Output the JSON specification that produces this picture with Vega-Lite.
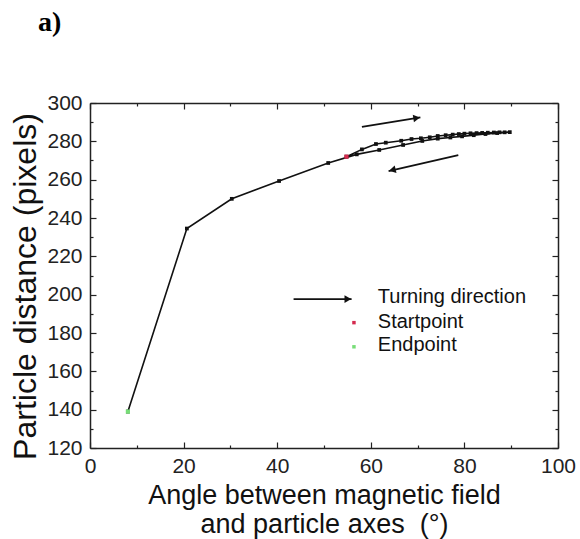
{
  "$schema": "https://vega.github.io/schema/vega-lite/v6.json",
  "width": 468,
  "height": 345,
  "autosize": {"type": "none"},
  "padding": {"left": 90, "top": 103, "right": 22, "bottom": 91},
  "background": "white",
  "config": {"font": "Liberation Sans", "view": {"stroke": null}},
  "title": {"text": "a)", "anchor": "start", "frame": "group", "font": "Liberation Serif", "fontWeight": "bold", "fontSize": 28, "dx": -52, "offset": 55, "color": "black"},
  "datasets": {
    "path": [
      {"order": 1, "angle": 54.8, "distance": 272.0},
      {"order": 2, "angle": 58.1, "distance": 275.8},
      {"order": 3, "angle": 61.1, "distance": 278.6},
      {"order": 4, "angle": 63.2, "distance": 279.3},
      {"order": 5, "angle": 66.5, "distance": 280.3},
      {"order": 6, "angle": 68.7, "distance": 281.2},
      {"order": 7, "angle": 70.7, "distance": 281.6},
      {"order": 8, "angle": 72.6, "distance": 282.1},
      {"order": 9, "angle": 74.3, "distance": 282.8},
      {"order": 10, "angle": 76.0, "distance": 283.2},
      {"order": 11, "angle": 77.5, "distance": 283.5},
      {"order": 12, "angle": 78.8, "distance": 283.8},
      {"order": 13, "angle": 80.0, "distance": 284.0},
      {"order": 14, "angle": 81.3, "distance": 284.2},
      {"order": 15, "angle": 82.6, "distance": 284.3},
      {"order": 16, "angle": 83.8, "distance": 284.4},
      {"order": 17, "angle": 85.0, "distance": 284.5},
      {"order": 18, "angle": 86.3, "distance": 284.6},
      {"order": 19, "angle": 87.5, "distance": 284.7},
      {"order": 20, "angle": 88.6, "distance": 284.7},
      {"order": 21, "angle": 89.7, "distance": 284.8},
      {"order": 22, "angle": 87.0, "distance": 284.3},
      {"order": 23, "angle": 84.5, "distance": 283.8},
      {"order": 24, "angle": 82.0, "distance": 283.2},
      {"order": 25, "angle": 79.5, "distance": 282.6},
      {"order": 26, "angle": 77.0, "distance": 282.0},
      {"order": 27, "angle": 74.3, "distance": 281.4},
      {"order": 28, "angle": 71.0, "distance": 280.2},
      {"order": 29, "angle": 66.9, "distance": 278.1},
      {"order": 30, "angle": 61.8, "distance": 275.5},
      {"order": 31, "angle": 57.0, "distance": 273.2},
      {"order": 32, "angle": 50.9, "distance": 268.7},
      {"order": 33, "angle": 40.4, "distance": 259.3},
      {"order": 34, "angle": 30.3, "distance": 250.0},
      {"order": 35, "angle": 20.7, "distance": 234.5},
      {"order": 36, "angle": 8.1, "distance": 139.0}
    ],
    "marks": [
      {"kind": "Startpoint", "angle": 54.8, "distance": 272.0},
      {"kind": "Endpoint", "angle": 8.1, "distance": 139.0}
    ],
    "arrows": [
      {"x": 58.1, "y": 287.6, "x2": 70.6, "y2": 292.5, "hx": 69.8, "hy": 292.2, "shape": "triangle-right", "rot": 351},
      {"x": 78.7, "y": 272.8, "x2": 63.8, "y2": 264.5, "hx": 64.6, "hy": 265.0, "shape": "triangle-left", "rot": 346.6},
      {"x": 43.5, "y": 197.7, "x2": 55.9, "y2": 197.7, "hx": 55.1, "hy": 197.7, "shape": "triangle-right", "rot": 0}
    ],
    "legendDots": [
      {"kind": "Startpoint", "x": 56.4, "y": 185.4},
      {"kind": "Endpoint", "x": 56.4, "y": 172.8}
    ],
    "legendText": [
      {"label": "Turning direction", "x": 61.5, "y": 198.8},
      {"label": "Startpoint", "x": 61.5, "y": 185.9},
      {"label": "Endpoint", "x": 61.5, "y": 173.7}
    ]
  },
  "resolve": {"axis": {"x": "independent", "y": "independent"}},
  "layer": [
    {
      "data": {"name": "path"},
      "mark": {"type": "line", "color": "#111", "strokeWidth": 1.6, "point": {"filled": true, "shape": "square", "size": 14, "color": "#111"}},
      "encoding": {
        "x": {"field": "angle", "type": "quantitative", "scale": {"domain": [0, 100], "nice": false, "zero": false},
          "axis": {"orient": "bottom", "values": [0, 10, 20, 30, 40, 50, 60, 70, 80, 90, 100], "labelExpr": "datum.value % 20 === 0 ? datum.label : ''",
            "tickSize": {"condition": {"test": "datum.value % 20 === 0", "value": -6}, "value": -3},
            "labelPadding": 13, "labelFontSize": 21, "labelColor": "#222", "labelFlush": false,
            "title": ["Angle between magnetic field", "and particle axes\u00a0\u00a0(°)"], "titleFontSize": 27, "titleFontWeight": "normal", "titleLineHeight": 29, "titlePadding": 6, "titleColor": "#111",
            "grid": false, "domainColor": "#222", "domainWidth": 1.5, "tickColor": "#222", "tickWidth": 1.2}},
        "y": {"field": "distance", "type": "quantitative", "scale": {"domain": [120, 300], "nice": false, "zero": false},
          "axis": {"orient": "left", "values": [120, 130, 140, 150, 160, 170, 180, 190, 200, 210, 220, 230, 240, 250, 260, 270, 280, 290, 300], "labelExpr": "datum.value % 20 === 0 ? datum.label : ''",
            "tickSize": {"condition": {"test": "datum.value % 20 === 0", "value": -6}, "value": -3},
            "labelPadding": 14, "labelFontSize": 21, "labelColor": "#222", "labelFlush": false,
            "title": "Particle distance (pixels)", "titleFontSize": 32, "titleFontWeight": "normal", "titlePadding": 4, "titleY": 183, "titleColor": "#111",
            "grid": false, "domainColor": "#222", "domainWidth": 1.5, "tickColor": "#222", "tickWidth": 1.2}},
        "order": {"field": "order", "type": "quantitative"}
      }
    },
    {
      "data": {"name": "marks"},
      "mark": {"type": "point", "filled": true, "shape": "square", "size": 18, "opacity": 1},
      "encoding": {
        "x": {"field": "angle", "type": "quantitative", "scale": {"domain": [0, 100], "nice": false, "zero": false},
          "axis": {"orient": "top", "values": [0, 10, 20, 30, 40, 50, 60, 70, 80, 90, 100], "labels": false, "title": null,
            "tickSize": {"condition": {"test": "datum.value % 20 === 0", "value": -6}, "value": -3},
            "grid": false, "domainColor": "#222", "domainWidth": 1.5, "tickColor": "#222", "tickWidth": 1.2}},
        "y": {"field": "distance", "type": "quantitative", "scale": {"domain": [120, 300], "nice": false, "zero": false},
          "axis": {"orient": "right", "values": [120, 130, 140, 150, 160, 170, 180, 190, 200, 210, 220, 230, 240, 250, 260, 270, 280, 290, 300], "labels": false, "title": null,
            "tickSize": {"condition": {"test": "datum.value % 20 === 0", "value": -6}, "value": -3},
            "grid": false, "domainColor": "#222", "domainWidth": 1.5, "tickColor": "#222", "tickWidth": 1.2}},
        "color": {"field": "kind", "type": "nominal", "scale": {"domain": ["Startpoint", "Endpoint"], "range": ["#d42a4e", "#77dd77"]}, "legend": null}
      }
    },
    {
      "data": {"name": "arrows"},
      "mark": {"type": "rule", "color": "#111", "strokeWidth": 1.8},
      "encoding": {
        "x": {"field": "x", "type": "quantitative", "axis": null},
        "y": {"field": "y", "type": "quantitative", "axis": null},
        "x2": {"field": "x2"},
        "y2": {"field": "y2"}
      }
    },
    {
      "data": {"name": "arrows"},
      "mark": {"type": "point", "filled": true, "color": "#111", "size": 60, "opacity": 1},
      "encoding": {
        "x": {"field": "hx", "type": "quantitative", "axis": null},
        "y": {"field": "hy", "type": "quantitative", "axis": null},
        "shape": {"field": "shape", "type": "nominal", "scale": null},
        "angle": {"field": "rot", "type": "quantitative", "scale": null}
      }
    },
    {
      "data": {"name": "legendDots"},
      "mark": {"type": "point", "filled": true, "shape": "square", "size": 12, "opacity": 1},
      "encoding": {
        "x": {"field": "x", "type": "quantitative", "axis": null},
        "y": {"field": "y", "type": "quantitative", "axis": null},
        "color": {"field": "kind", "type": "nominal", "scale": {"domain": ["Startpoint", "Endpoint"], "range": ["#d42a4e", "#5fbf9f"]}, "legend": null}
      }
    },
    {
      "data": {"name": "legendText"},
      "mark": {"type": "text", "align": "left", "baseline": "middle", "fontSize": 20, "color": "#111"},
      "encoding": {
        "x": {"field": "x", "type": "quantitative", "axis": null},
        "y": {"field": "y", "type": "quantitative", "axis": null},
        "text": {"field": "label"}
      }
    }
  ]
}
